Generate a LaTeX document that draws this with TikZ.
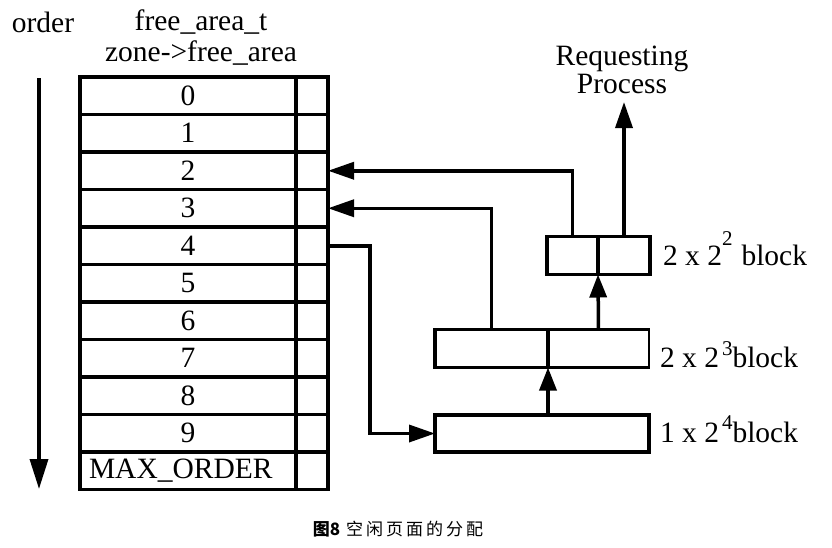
\documentclass[tikz,border=0pt]{standalone}
\usepackage{fontspec}
\setmainfont{Liberation Serif}
\newfontfamily\cjk{Noto Sans CJK SC}
\usetikzlibrary{arrows.meta,calc}
\newcommand{\supnum}[2]{\raisebox{#1}{\fontsize{21}{22}\selectfont #2}}
\begin{document}
\begin{tikzpicture}[x=1pt,y=-1pt,
  every node/.style={inner sep=0pt,outer sep=0pt},
  lbl/.style={font=\fontsize{29.5}{31}\selectfont},
  rowbox/.style={draw,line width=3.5pt,minimum width=216pt,minimum height=37.5pt,font=\fontsize{29.5}{31}\selectfont},
  ptrbox/.style={draw,line width=3.5pt,minimum width=32pt,minimum height=37.5pt},
  blk/.style={draw,line width=3.5pt,minimum height=38pt},
  arr/.style={line width=3.5pt,-{Triangle[length=26pt,width=17pt]}},
  sarr/.style={line width=3.5pt,-{Triangle[length=23pt,width=17pt]}}]
\useasboundingbox (0,0) rectangle (832,547);
% headers
\node[lbl] (order) at (43,22) {order};
\node[lbl] (fat) at (201,22) {free\_area\_t};
\node[lbl] (zfa) at (201,53) {zone->free\_area};
% table
\foreach \i/\t in {0/0,1/1,2/2,3/3,4/4,5/5,6/6,7/7,8/8,9/9} {
  \node[rowbox] (r\i) at (188,{77+37.5*\i+18.75}) {\t};
  \node[ptrbox] (p\i) at (312,{77+37.5*\i+18.75}) {};
}
\node[rowbox,text width=198pt,align=left] (r10) at (188,{77+37.5*10+18.75}) {MAX\_ORDER};
\node[ptrbox] (p10) at (312,{77+37.5*10+18.75}) {};
% order arrow
\coordinate (otop) at (39,78);
\coordinate (obot) at (39,489);
\draw[line width=3.5pt,-{Triangle[length=30pt,width=18pt]}] (otop) -- (obot);
% blocks
\node[blk,minimum width=51pt] (b2l) at (572.5,255.5) {};
\node[blk,minimum width=52pt] (b2r) at (624,255.5) {};
\node[blk,minimum width=113pt] (b3l) at (491.5,348.5) {};
\node[draw,line width=2.5pt,minimum width=101pt,minimum height=38pt] (b3r) at (598.5,348.5) {};
\node[blk,minimum width=214pt,minimum height=37pt] (b4) at (542,433.5) {};
% labels
\node[lbl,anchor=base west] (l2) at (663,265) {2 x 2\supnum{20pt}{2}\hspace{9pt}block};
\node[lbl,anchor=base west] (l3) at (660,367) {2 x 2\hspace{3pt}\supnum{12pt}{3}block};
\node[lbl,anchor=base west] (l4) at (660,442) {1 x 2\hspace{3pt}\supnum{13pt}{4}block};
\node[lbl,align=center] (req) at (622,70) {Requesting\\[-3pt]Process};
% connectors
\coordinate (reqtip) at (624,102);
\draw[arr] (b2r.north) -- (reqtip);
\draw[arr] (b2l.north) |- (p2.east);
\draw[arr] (b3l.north) |- (p3.east);
\coordinate (c4) at (370,433.5);
\draw[arr] (p4.east) -| (c4) -- (b4.west);
\draw[sarr] (b4.north -| b3l.east) -- (b3l.south east);
\draw[sarr] (b3r.north) -- (b2l.south east);
% caption
\node[font={\cjk\fontsize{17}{19}\selectfont}] (cap) at (398,529) {\textbf{图8}\hspace{6pt}空\hspace{3pt}闲\hspace{3pt}页\hspace{3pt}面\hspace{3pt}的\hspace{3pt}分\hspace{3pt}配};
\end{tikzpicture}
\end{document}
